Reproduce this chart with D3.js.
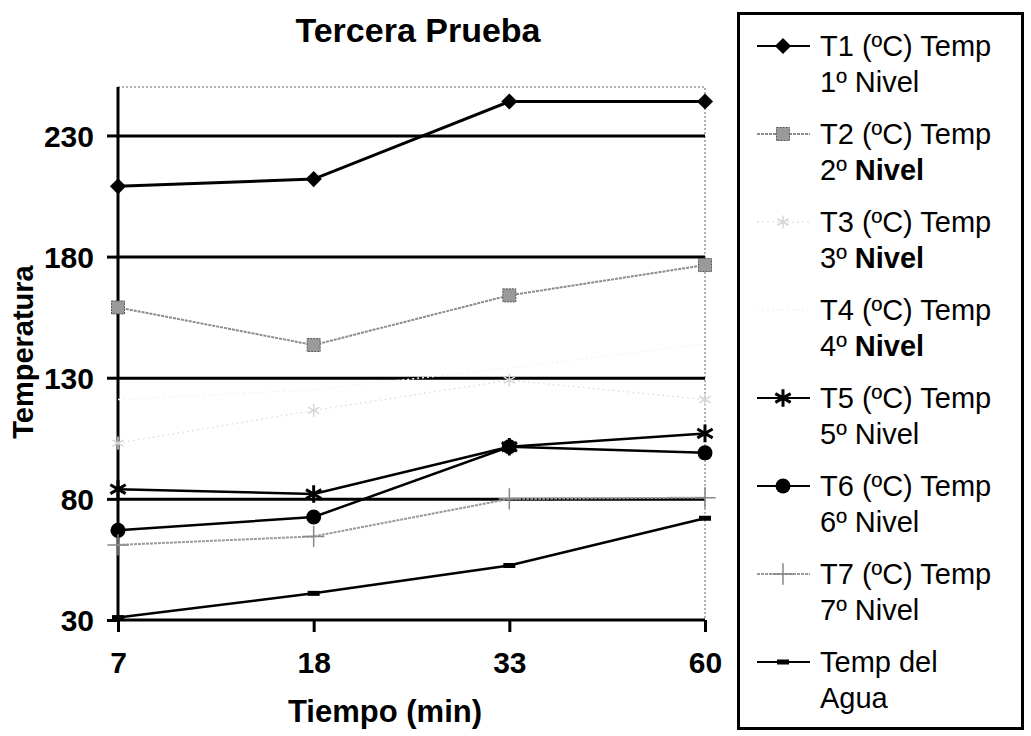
<!DOCTYPE html>
<html>
<head>
<meta charset="utf-8">
<script src="https://cdn.jsdelivr.net/npm/d3@7"></script>
<style>
  body { margin: 0; background: #fff; }
  text { font-family: "Liberation Sans", Arial, sans-serif; fill: #000; }
</style>
</head>
<body>
<div id="chart"></div>
<script>
// data
var categories = ["7", "18", "33", "60"];
var yTicks = [30, 80, 130, 180, 230];
var t1 = [209, 212, 244, 244];
var t2 = [159, 143.5, 164, 176.5];
var t3 = [103, 116.5, 129, 121];
var t4 = [121, 125, 134, 144];
var t5 = [84, 82, 101.5, 107];
var t6 = [67, 72.5, 101.5, 99];
var t7 = [61, 64.5, 80, 80.5];
var agua = [31, 41, 52.5, 72];
var legendFirst = ["T1 (ºC) Temp", "T2 (ºC) Temp", "T3 (ºC) Temp", "T4 (ºC) Temp",
                   "T5 (ºC) Temp", "T6 (ºC) Temp", "T7 (ºC) Temp", "Temp del"];
var legendSecond = ["1º Nivel", "2º Nivel", "3º Nivel", "4º Nivel",
                    "5º Nivel", "6º Nivel", "7º Nivel", "Agua"];

var W = 1031, H = 736;
var plot = { left: 118, right: 705, top: 87, bottom: 620 };

var svg = d3.select("#chart").append("svg")
    .attr("width", W)
    .attr("height", H);

var x = d3.scalePoint().domain(categories).range([plot.left, plot.right]);
var y = d3.scaleLinear().domain([30, 250]).range([plot.bottom, plot.top]);

// series styles (3rd and 4th level are nearly invisible in the scan)
var series = [
    { values: t1, color: "#000", width: 3, marker: "diamond", boldNivel: false },
    { values: t2, color: "#8c8c8c", width: 2, marker: "square", boldNivel: true, dash: "3,1" },
    { values: t3, color: "#e4e4e4", width: 1.5, marker: "faintStar", boldNivel: true, dash: "2,3" },
    { values: t4, color: "#f4f4f4", width: 1.5, marker: "none", boldNivel: true, dash: "2,3" },
    { values: t5, color: "#000", width: 2.5, marker: "asterisk", boldNivel: false },
    { values: t6, color: "#000", width: 2.5, marker: "circle", boldNivel: false },
    { values: t7, color: "#9a9a9a", width: 2, marker: "plus", boldNivel: false, dash: "3,1" },
    { values: agua, color: "#000", width: 2.5, marker: "dash", boldNivel: false }
];

// dotted frame top/right
svg.append("path")
    .attr("d", "M" + plot.left + "," + plot.top + "H" + plot.right + "V" + plot.bottom)
    .attr("fill", "none")
    .attr("stroke", "#999")
    .attr("stroke-width", 1.5)
    .attr("stroke-dasharray", "2,2");

// gridlines
var grid = svg.append("g")
    .attr("transform", "translate(" + plot.left + ",0)")
    .call(d3.axisLeft(y).tickValues(yTicks.slice(1)).tickSize(-(plot.right - plot.left)).tickFormat(""));
grid.select(".domain").remove();
grid.selectAll("line").attr("stroke", "#000").attr("stroke-width", 3);

// y axis
var yAxis = svg.append("g")
    .attr("transform", "translate(" + plot.left + ",0)")
    .call(d3.axisLeft(y).tickValues(yTicks).tickSize(11).tickPadding(13));
yAxis.select(".domain").attr("stroke", "#000").attr("stroke-width", 3)
    .attr("d", "M0," + plot.bottom + "V" + plot.top);
yAxis.selectAll("line").attr("stroke", "#000").attr("stroke-width", 3);
yAxis.selectAll("text")
    .style("font-size", "30px").style("font-weight", "bold")
    .attr("dy", "0.36em");

// x axis
var xAxis = svg.append("g")
    .attr("transform", "translate(0," + plot.bottom + ")")
    .call(d3.axisBottom(x).tickSize(12).tickPadding(20));
xAxis.select(".domain").attr("stroke", "#000").attr("stroke-width", 3)
    .attr("d", "M" + plot.left + ",0H" + plot.right);
xAxis.selectAll("line").attr("stroke", "#000").attr("stroke-width", 3);
xAxis.selectAll("text")
    .style("font-size", "30px").style("font-weight", "bold");

// titles
svg.append("text")
    .attr("x", 418).attr("y", 42)
    .attr("text-anchor", "middle")
    .style("font-size", "34px").style("font-weight", "bold")
    .text("Tercera Prueba");

svg.append("text")
    .attr("x", 385).attr("y", 722)
    .attr("text-anchor", "middle")
    .style("font-size", "31px").style("font-weight", "bold")
    .text("Tiempo (min)");

svg.append("text")
    .attr("transform", "translate(33,352) rotate(-90)")
    .attr("text-anchor", "middle")
    .style("font-size", "29px").style("font-weight", "bold")
    .text("Temperatura");

// markers
function drawMarker(g, kind, cx, cy, color) {
    if (kind == "diamond") {
        g.append("path").attr("d", d3.symbol(d3.symbolSquare, 130)())
            .attr("transform", "translate(" + cx + "," + cy + ") rotate(45)").attr("fill", color);
    } else if (kind == "square") {
        g.append("rect").attr("x", cx - 6.5).attr("y", cy - 6.5).attr("width", 13).attr("height", 13)
            .attr("fill", "#9a9a9a").attr("stroke", "#555").attr("stroke-width", 1)
            .attr("stroke-dasharray", "2,1");
    } else if (kind == "faintStar") {
        g.append("path").attr("d", d3.symbol(d3.symbolAsterisk, 120)())
            .attr("transform", "translate(" + cx + "," + cy + ")")
            .attr("fill", "none").attr("stroke", "#d6d6d6").attr("stroke-width", 1.5);
    } else if (kind == "asterisk") {
        g.append("path").attr("d", d3.symbol(d3.symbolAsterisk, 220)())
            .attr("transform", "translate(" + cx + "," + cy + ")")
            .attr("fill", "none").attr("stroke", color).attr("stroke-width", 3);
    } else if (kind == "circle") {
        g.append("circle").attr("cx", cx).attr("cy", cy).attr("r", 7.5).attr("fill", color);
    } else if (kind == "plus") {
        g.append("path").attr("d", d3.symbol(d3.symbolPlus, 150)())
            .attr("transform", "translate(" + cx + "," + cy + ")")
            .attr("fill", "none").attr("stroke", "#888").attr("stroke-width", 1.5);
    } else if (kind == "dash") {
        g.append("rect").attr("x", cx - 6).attr("y", cy - 2.5).attr("width", 12).attr("height", 5)
            .attr("fill", color);
    }
}

var line = d3.line()
    .x(function (d, i) { return x(categories[i]); })
    .y(function (d) { return y(d); });

var seriesG = svg.append("g");
series.forEach(function (s) {
    seriesG.append("path")
        .datum(s.values)
        .attr("d", line)
        .attr("fill", "none")
        .attr("stroke", s.color)
        .attr("stroke-width", s.width)
        .attr("stroke-dasharray", s.dash || null);
    s.values.forEach(function (v, i) {
        drawMarker(seriesG, s.marker, x(categories[i]), y(v), s.color);
    });
});

// legend
var legend = svg.append("g");
legend.append("path")
    .attr("d", "M738.5,13.5H1022.5V728.5H738.5Z")
    .attr("fill", "#fff")
    .attr("stroke", "#000")
    .attr("stroke-width", 3);

var pitch = 88;
series.forEach(function (s, i) {
    var cy = 46 + i * pitch;
    var item = legend.append("g");
    item.append("line")
        .attr("x1", 757).attr("x2", 810)
        .attr("y1", cy).attr("y2", cy)
        .attr("stroke", s.color)
        .attr("stroke-width", Math.min(s.width, 2))
        .attr("stroke-dasharray", s.dash || null);
    drawMarker(item, s.marker, 783, cy, s.color);
    item.append("text")
        .attr("x", 820).attr("y", cy + 10)
        .style("font-size", "29px")
        .text(legendFirst[i]);
    var second = item.append("text")
        .attr("x", 820).attr("y", cy + 46)
        .style("font-size", "29px");
    if (s.boldNivel) {
        var parts = legendSecond[i].split(" ");
        second.append("tspan").text(parts[0] + " ");
        second.append("tspan").style("font-weight", "bold").text(parts[1]);
    } else {
        second.text(legendSecond[i]);
    }
});
</script>
</body>
</html>
